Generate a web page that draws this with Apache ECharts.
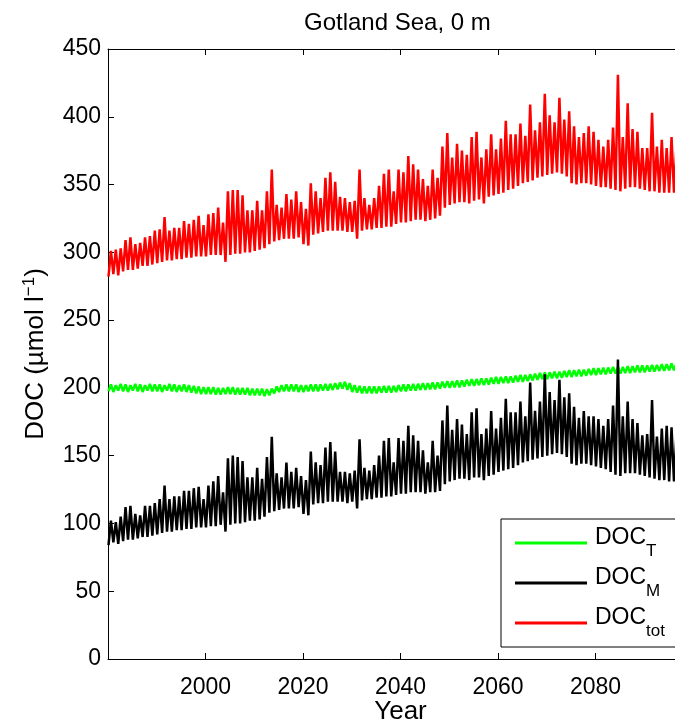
<!DOCTYPE html>
<html>
<head>
<meta charset="utf-8">
<script src="https://cdn.jsdelivr.net/npm/echarts@6/dist/echarts.min.js"></script>
<style>
  html, body { margin: 0; padding: 0; background: #fff; }
  #chart { width: 675px; height: 721px; }
</style>
</head>
<body>
<div id="chart"></div>
<script>
// Surface DOC at Gotland Sea, one seasonal high and low per year, 1980-2096
const firstYear = 1980;

// Axis ticks
const yTicks = [0, 50, 100, 150, 200, 250, 300, 350, 400, 450];
const xTicks = [2000, 2020, 2040, 2060, 2080];

// DOC_tot (µmol l-1): yearly maxima and minima
const totPeak = [
  301, 302, 303, 309, 311, 306, 307, 311, 312, 316,
  317, 326, 316, 318, 318, 323, 321, 324, 327, 320,
  328, 329, 333, 322, 345, 346, 346, 342, 331, 331,
  338, 331, 345, 361, 335, 333, 343, 339, 345, 337,
  332, 351, 345, 340, 355, 359, 352, 341, 340, 337,
  338, 361, 340, 335, 340, 349, 358, 361, 345, 361,
  359, 371, 365, 361, 354, 349, 361, 355, 378, 388,
  370, 380, 375, 372, 385, 389, 370, 376, 387, 376,
  384, 397, 387, 387, 395, 386, 409, 390, 396, 417,
  401, 396, 414, 398, 404, 393, 385, 388, 393, 389,
  383, 378, 383, 392, 431, 385, 410, 391, 389, 377,
  377, 403, 378, 383, 377, 385, 378
];
const totTrough = [
  282, 284, 283, 286, 287, 287, 288, 290, 290, 291,
  292, 293, 294, 294, 295, 295, 296, 296, 297, 297,
  297, 298, 298, 298, 293, 298, 299, 299, 300, 300,
  301, 302, 303, 306, 308, 309, 310, 310, 310, 311,
  306, 305, 313, 314, 315, 316, 316, 316, 316, 315,
  315, 310, 316, 317, 317, 318, 318, 319, 319, 321,
  322, 322, 323, 324, 324, 323, 324, 325, 327, 333,
  335, 336, 337, 337, 336, 338, 339, 336, 341, 342,
  343, 344, 346, 347, 349, 351, 352, 353, 355, 356,
  357, 358, 359, 358, 356, 351, 350, 351, 351, 350,
  349, 348, 348, 347, 346, 345, 347, 348, 348, 347,
  346, 345, 345, 344, 344, 344, 344
];

// DOC_M (marine): yearly maxima and minima
const marPeak = [
  102, 101, 105, 112, 113, 107, 106, 113, 113, 115,
  118, 128, 118, 120, 120, 124, 124, 126, 127, 118,
  128, 131, 135, 123, 148, 150, 149, 146, 134, 134,
  141, 133, 149, 164, 137, 134, 145, 138, 141, 135,
  132, 153, 145, 143, 156, 160, 153, 138, 138, 137,
  139, 162, 141, 139, 143, 150, 161, 163, 145, 163,
  161, 172, 165, 161, 154, 145, 161, 150, 176, 187,
  169, 177, 173, 166, 182, 185, 166, 170, 183, 170,
  178, 192, 182, 182, 190, 179, 204, 183, 190, 210,
  197, 191, 206, 193, 196, 186, 178, 183, 179, 179,
  177, 172, 177, 187, 221, 179, 190, 177, 174, 165,
  166, 191, 164, 170, 172, 171, 165
];
const marTrough = [
  84, 86, 85, 87, 88, 88, 89, 90, 90, 91,
  92, 93, 94, 94, 95, 95, 96, 96, 97, 97,
  97, 98, 98, 99, 94, 99, 100, 100, 101, 102,
  102, 103, 105, 108, 109, 110, 111, 111, 111, 112,
  107, 106, 114, 115, 115, 116, 116, 116, 116, 115,
  116, 111, 117, 118, 118, 119, 119, 120, 120, 121,
  122, 122, 123, 123, 123, 122, 123, 123, 124, 129,
  131, 132, 133, 133, 132, 134, 134, 132, 135, 136,
  138, 139, 140, 141, 143, 145, 146, 147, 148, 149,
  150, 151, 152, 151, 149, 144, 143, 144, 144, 143,
  142, 141, 140, 138, 136, 135, 137, 137, 137, 136,
  135, 134, 133, 132, 132, 131, 131
];

// DOC_T (terrestrial): yearly maxima and minima
const terPeak = [
  202.5, 202, 203, 202.5, 202, 203, 202.5, 202, 203, 202.5,
  202.5, 202, 203, 202.5, 202, 202.5, 202, 201.5, 201, 200.5,
  200.5, 200.5, 200, 200, 200.5, 200.5, 200, 200, 200, 199.5,
  199.5, 199.5, 199, 199.5, 201, 202, 202.5, 202.5, 202.5, 202,
  202, 202.5, 202.5, 202.5, 203, 203, 203.5, 204, 204.5, 203.5,
  202, 201.5, 201, 201, 201, 201, 201.5, 201.5, 201.5, 202,
  202.5, 202.5, 203, 203, 203.5, 203.5, 204, 204, 204.5, 205,
  205, 205.5, 205.5, 206, 206.5, 206.5, 207, 207, 207.5, 208,
  208, 208.5, 208.5, 209, 209.5, 209.5, 210, 210.5, 211, 211.5,
  211.5, 212, 212, 212.5, 213, 213, 213.5, 213.5, 214, 214.5,
  214.5, 215, 215, 215.5, 215.5, 215.5, 216, 216, 216.5, 216.5,
  216.5, 217, 217, 217.5, 217.5, 218, 218
];
const terTrough = [
  197.5, 197, 198, 197.5, 197, 198, 197.5, 197, 198, 197.5,
  197.5, 197, 198, 197.5, 197, 197.5, 197, 196.5, 196, 195.5,
  195.5, 195.5, 195, 195, 195.5, 195.5, 195, 195, 195, 194.5,
  194.5, 194.5, 194, 194.5, 196, 197, 197.5, 197.5, 197.5, 197,
  197, 197.5, 197.5, 197.5, 198, 198, 198.5, 199, 199.5, 198.5,
  197, 196.5, 196, 196, 196, 196, 196.5, 196.5, 196.5, 197,
  197.5, 197.5, 198, 198, 198.5, 198.5, 199, 199, 199.5, 200,
  200, 200.5, 200.5, 201, 201.5, 201.5, 202, 202, 202.5, 203,
  203, 203.5, 203.5, 204, 204.5, 204.5, 205, 205.5, 206, 206.5,
  206.5, 207, 207, 207.5, 208, 208, 208.5, 208.5, 209, 209.5,
  209.5, 210, 210, 210.5, 210.5, 210.5, 211, 211, 211.5, 211.5,
  211.5, 212, 212, 212.5, 212.5, 213, 213
];

// Winter low early in the year, summer high around mid-year
const LOW_PHASE = 0.1;
const HIGH_PHASE = 0.6;
function seasonal(troughs, peaks) {
  const pts = [];
  for (let i = 0; i < peaks.length; i++) {
    pts.push([firstYear + i + LOW_PHASE, troughs[i]]);
    pts.push([firstYear + i + HIGH_PHASE, peaks[i]]);
  }
  return pts;
}

const FONT = '"Liberation Sans", Arial, Helvetica, sans-serif';
const FS = 23;      // tick labels and legend
const FS_NAME = 26; // axis titles
const LW = 2.5;

const chart = echarts.init(document.getElementById('chart'), null, { renderer: 'canvas' });

const tickStyle = { inside: true, length: 6, lineStyle: { color: '#000', width: 1 } };
const lineAxis = { show: true, lineStyle: { color: '#000', width: 1 } };

chart.setOption({
  backgroundColor: '#fff',
  animation: false,
  title: {
    text: 'Gotland Sea, 0 m',
    left: 304,
    top: 11,
    padding: 0,
    textStyle: { fontFamily: FONT, fontSize: 24, fontWeight: 'normal', color: '#000' }
  },
  grid: {
    left: 108, top: 49, bottom: 62, right: -18,
    containLabel: false, outerBoundsMode: 'none'
  },
  xAxis: [
    {
      type: 'value', position: 'bottom',
      min: 1980, max: 2100, interval: 20,
      axisLine: lineAxis, axisTick: tickStyle, splitLine: { show: false },
      axisLabel: {
        fontFamily: FONT, fontSize: FS, color: '#000', margin: 17,
        showMinLabel: false, showMaxLabel: false,
        formatter: v => (xTicks.indexOf(v) >= 0 ? String(v) : '')
      },
      name: 'Year', nameLocation: 'middle', nameGap: 40, nameMoveOverlap: false,
      nameTextStyle: { fontFamily: FONT, fontSize: FS_NAME, color: '#000' }
    },
    {
      type: 'value', position: 'top',
      min: 1980, max: 2100, interval: 20,
      axisLine: lineAxis, axisTick: tickStyle, splitLine: { show: false },
      axisLabel: { show: false }
    }
  ],
  yAxis: {
    type: 'value', min: yTicks[0], max: yTicks[yTicks.length - 1], interval: 50,
    axisLine: lineAxis, axisTick: tickStyle, splitLine: { show: false },
    axisLabel: { fontFamily: FONT, fontSize: FS, color: '#000', margin: 7 },
    name: 'DOC (µmol l{sup|−1})', nameLocation: 'middle', nameRotate: 90, nameGap: 58,
    nameMoveOverlap: false,
    nameTextStyle: {
      fontFamily: FONT, fontSize: FS_NAME, color: '#000', lineHeight: 29,
      rich: { sup: { fontFamily: FONT, fontSize: 17, color: '#000', lineHeight: 29, verticalAlign: 'top' } }
    }
  },
  legend: {
    orient: 'vertical', left: 501, top: 519,
    padding: [7, 40, 7, 14], itemGap: 6,
    itemWidth: 72, itemHeight: 3, icon: 'rect',
    borderColor: '#000', borderWidth: 1, borderRadius: 0, backgroundColor: '#fff',
    data: ['DOC_T', 'DOC_M', 'DOC_tot'],
    formatter: n => {
      const parts = n.split('_');
      return '{m|' + parts[0] + '}{s|' + parts[1] + '}';
    },
    textStyle: {
      fontFamily: FONT, color: '#000',
      rich: {
        m: { fontFamily: FONT, fontSize: FS, color: '#000', lineHeight: 26, verticalAlign: 'top', padding: [0, 0, 0, 3] },
        s: { fontFamily: FONT, fontSize: 17, color: '#000', lineHeight: 34, verticalAlign: 'bottom' }
      }
    }
  },
  series: [
    {
      name: 'DOC_T', type: 'line', data: seasonal(terTrough, terPeak),
      symbol: 'none', lineStyle: { color: '#00ff00', width: LW }, itemStyle: { color: '#00ff00' }
    },
    {
      name: 'DOC_M', type: 'line', data: seasonal(marTrough, marPeak),
      symbol: 'none', lineStyle: { color: '#000000', width: LW }, itemStyle: { color: '#000000' }
    },
    {
      name: 'DOC_tot', type: 'line', data: seasonal(totTrough, totPeak),
      symbol: 'none', lineStyle: { color: '#ff0000', width: LW }, itemStyle: { color: '#ff0000' }
    }
  ]
});
</script>
</body>
</html>
